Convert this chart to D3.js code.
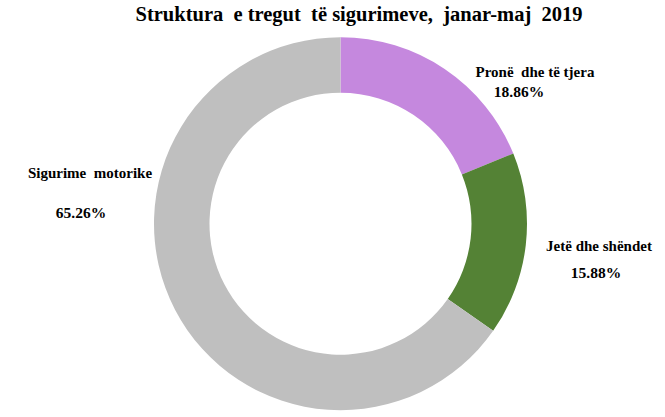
<!DOCTYPE html>
<html><head><meta charset="utf-8">
<script src="https://cdn.jsdelivr.net/npm/d3@7"></script>
<style>body{margin:0;background:#fff}svg{display:block}text{font-family:"Liberation Serif","Times New Roman",serif;font-weight:bold;white-space:pre}</style>
</head><body>
<svg id="c" width="665" height="417"></svg>
<script>
const categories = ["Pronë  dhe të tjera", "Jetë dhe shëndet", "Sigurime  motorike"];
const values = [18.86, 15.88, 65.26];
const valueLabels = ["18.86%", "15.88%", "65.26%"];
const colors = ["#C588DE", "#548235", "#BFBFBF"];
const title = "Struktura  e tregut  të sigurimeve,  janar-maj  2019";

const svg = d3.select("#c");
const cx = 340.5, cy = 223.7, R = 186.5, r = 131;
const pie = d3.pie().sort(null).value(d => d)(values);
const arc = d3.arc().innerRadius(r).outerRadius(R);
const g = svg.append("g").attr("transform", `translate(${cx},${cy})`);
g.selectAll("path").data(pie).enter().append("path")
  .attr("d", arc).attr("fill", (d, i) => colors[i]);

svg.append("text").attr("x", 359).attr("y", 21).attr("text-anchor", "middle")
  .style("font-size", "20.5px").text(title);

const labelPos = [
  {x: 535, y1: 77, y2: 97, x2: 519},
  {x: 599, y1: 251, y2: 278, x2: 596},
  {x: 90, y1: 178, y2: 218, x2: 81}
];
categories.forEach((c, i) => {
  svg.append("text").attr("x", labelPos[i].x).attr("y", labelPos[i].y1)
    .attr("text-anchor", "middle").style("font-size", "15px").text(c);
  svg.append("text").attr("x", labelPos[i].x2).attr("y", labelPos[i].y2)
    .attr("text-anchor", "middle").style("font-size", "15.5px").text(valueLabels[i]);
});
</script>
</body></html>
